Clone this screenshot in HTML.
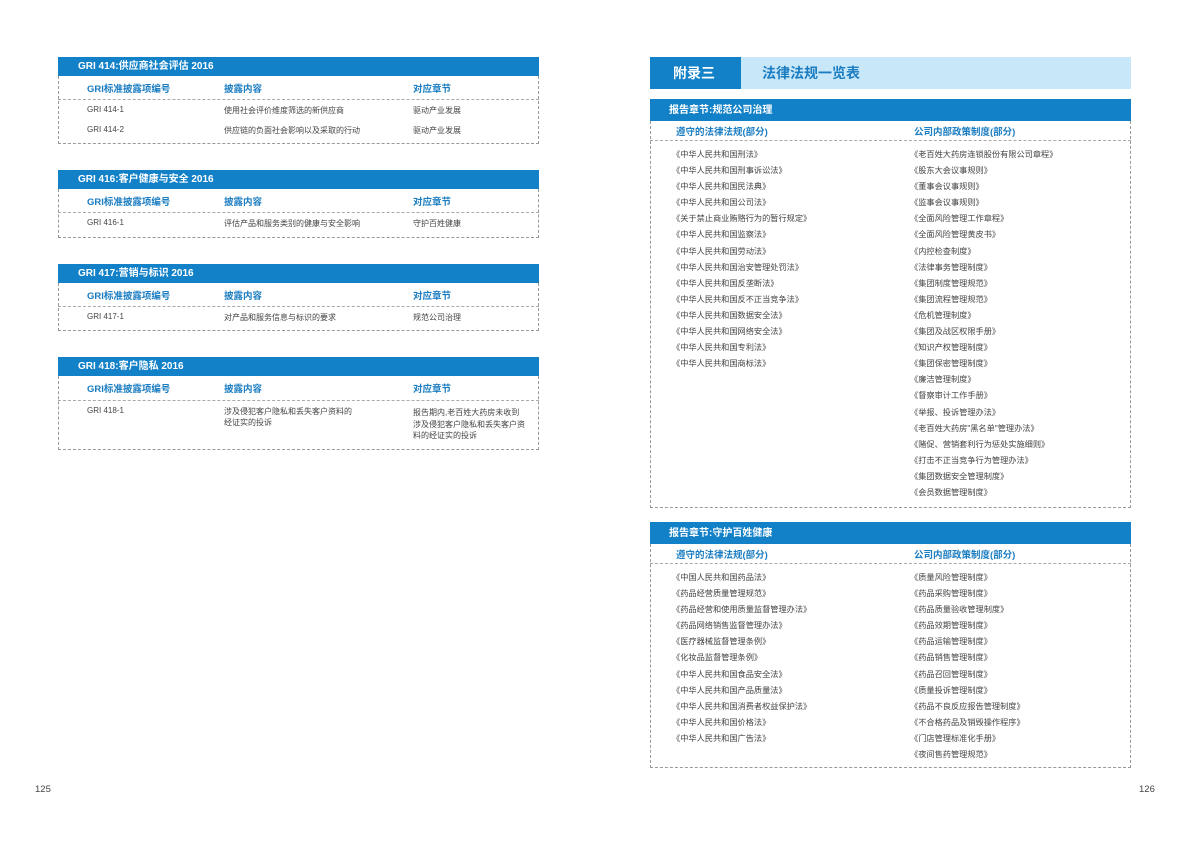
<!DOCTYPE html>
<html><head><meta charset="utf-8"><style>
*{margin:0;padding:0;box-sizing:border-box}
body{width:1191px;height:842px;background:#fff;position:relative;overflow:hidden;font-family:"Liberation Sans","Noto Sans CJK SC",sans-serif}
.a{position:absolute;white-space:nowrap}
.bar{position:absolute;background:#1281c8;color:#fff;font-weight:bold;font-size:10px;line-height:20px}
.box{position:absolute;border:1px dashed #999;border-top:none}
.hl{position:absolute;border-top:1px dashed #aaa}
.ch{position:absolute;color:#1a7cc1;font-weight:bold;font-size:9.5px;white-space:nowrap}
.t{position:absolute;color:#444;font-size:8px;white-space:nowrap}
.l{position:absolute;color:#444;font-size:8.2px;line-height:16.1px;white-space:nowrap}
</style></head><body>

<div class="bar" style="left:58px;top:57px;width:481px;height:19px;padding-left:20px">GRI 414:供应商社会评估 2016</div>
<div class="box" style="left:58px;top:76px;width:481px;height:68px"></div>
<div class="hl" style="left:58px;top:99px;width:481px"></div>
<div class="ch" style="left:87px;top:81px">GRI标准披露项编号</div><div class="ch" style="left:224px;top:81px">披露内容</div><div class="ch" style="left:413px;top:81px">对应章节</div>
<div class="t" style="left:87px;top:105px">GRI 414-1</div><div class="t" style="left:224px;top:105px">使用社会评价维度筛选的新供应商</div><div class="t" style="left:413px;top:105px">驱动产业发展</div>
<div class="t" style="left:87px;top:125px">GRI 414-2</div><div class="t" style="left:224px;top:125px">供应链的负面社会影响以及采取的行动</div><div class="t" style="left:413px;top:125px">驱动产业发展</div>

<div class="bar" style="left:58px;top:170px;width:481px;height:19px;padding-left:20px">GRI 416:客户健康与安全 2016</div>
<div class="box" style="left:58px;top:189px;width:481px;height:49px"></div>
<div class="hl" style="left:58px;top:212px;width:481px"></div>
<div class="ch" style="left:87px;top:194px">GRI标准披露项编号</div><div class="ch" style="left:224px;top:194px">披露内容</div><div class="ch" style="left:413px;top:194px">对应章节</div>
<div class="t" style="left:87px;top:218px">GRI 416-1</div><div class="t" style="left:224px;top:218px">评估产品和服务类别的健康与安全影响</div><div class="t" style="left:413px;top:218px">守护百姓健康</div>

<div class="bar" style="left:58px;top:264px;width:481px;height:19px;padding-left:20px">GRI 417:营销与标识 2016</div>
<div class="box" style="left:58px;top:283px;width:481px;height:48px"></div>
<div class="hl" style="left:58px;top:306px;width:481px"></div>
<div class="ch" style="left:87px;top:288px">GRI标准披露项编号</div><div class="ch" style="left:224px;top:288px">披露内容</div><div class="ch" style="left:413px;top:288px">对应章节</div>
<div class="t" style="left:87px;top:312px">GRI 417-1</div><div class="t" style="left:224px;top:312px">对产品和服务信息与标识的要求</div><div class="t" style="left:413px;top:312px">规范公司治理</div>

<div class="bar" style="left:58px;top:357px;width:481px;height:19px;padding-left:20px">GRI 418:客户隐私 2016</div>
<div class="box" style="left:58px;top:376px;width:481px;height:74px"></div>
<div class="hl" style="left:58px;top:400px;width:481px"></div>
<div class="ch" style="left:87px;top:381px">GRI标准披露项编号</div><div class="ch" style="left:224px;top:381px">披露内容</div><div class="ch" style="left:413px;top:381px">对应章节</div>
<div class="t" style="left:87px;top:406px">GRI 418-1</div>
<div class="t" style="left:224px;top:406px;line-height:11px">涉及侵犯客户隐私和丢失客户资料的<br>经证实的投诉</div>
<div class="t" style="left:413px;top:407px;line-height:11.5px">报告期内,老百姓大药房未收到<br>涉及侵犯客户隐私和丢失客户资<br>料的经证实的投诉</div>

<div class="a" style="left:650px;top:57px;width:481px;height:32px;background:#c8e7f9"></div>
<div class="a" style="left:650px;top:57px;width:91px;height:32px;background:#1281c8;color:#fff;font-weight:bold;font-size:14px;line-height:32px;padding-left:23px">附录三</div>
<div class="a" style="left:762px;top:57px;color:#1a7cc1;font-weight:bold;font-size:14px;line-height:32px">法律法规一览表</div>

<div class="bar" style="left:650px;top:99px;width:481px;height:22px;line-height:23px;padding-left:19px">报告章节:规范公司治理</div>
<div class="box" style="left:650px;top:121px;width:481px;height:387px"></div>
<div class="hl" style="left:650px;top:140px;width:481px"></div>
<div class="ch" style="left:676px;top:124px">遵守的法律法规(部分)</div><div class="ch" style="left:914px;top:124px">公司内部政策制度(部分)</div>
<div class="l" style="left:672px;top:147px">《中华人民共和国刑法》<br>《中华人民共和国刑事诉讼法》<br>《中华人民共和国民法典》<br>《中华人民共和国公司法》<br>《关于禁止商业贿赂行为的暂行规定》<br>《中华人民共和国监察法》<br>《中华人民共和国劳动法》<br>《中华人民共和国治安管理处罚法》<br>《中华人民共和国反垄断法》<br>《中华人民共和国反不正当竞争法》<br>《中华人民共和国数据安全法》<br>《中华人民共和国网络安全法》<br>《中华人民共和国专利法》<br>《中华人民共和国商标法》</div>
<div class="l" style="left:910px;top:147px">《老百姓大药房连锁股份有限公司章程》<br>《股东大会议事规则》<br>《董事会议事规则》<br>《监事会议事规则》<br>《全面风险管理工作章程》<br>《全面风险管理黄皮书》<br>《内控检查制度》<br>《法律事务管理制度》<br>《集团制度管理规范》<br>《集团流程管理规范》<br>《危机管理制度》<br>《集团及战区权限手册》<br>《知识产权管理制度》<br>《集团保密管理制度》<br>《廉洁管理制度》<br>《督察审计工作手册》<br>《举报、投诉管理办法》<br>《老百姓大药房"黑名单"管理办法》<br>《赌促、营销套利行为惩处实施细则》<br>《打击不正当竞争行为管理办法》<br>《集团数据安全管理制度》<br>《会员数据管理制度》</div>

<div class="bar" style="left:650px;top:522px;width:481px;height:22px;line-height:23px;padding-left:19px">报告章节:守护百姓健康</div>
<div class="box" style="left:650px;top:544px;width:481px;height:224px"></div>
<div class="hl" style="left:650px;top:563px;width:481px"></div>
<div class="ch" style="left:676px;top:547px">遵守的法律法规(部分)</div><div class="ch" style="left:914px;top:547px">公司内部政策制度(部分)</div>
<div class="l" style="left:672px;top:570px">《中国人民共和国药品法》<br>《药品经营质量管理规范》<br>《药品经营和使用质量监督管理办法》<br>《药品网络销售监督管理办法》<br>《医疗器械监督管理条例》<br>《化妆品监督管理条例》<br>《中华人民共和国食品安全法》<br>《中华人民共和国产品质量法》<br>《中华人民共和国消费者权益保护法》<br>《中华人民共和国价格法》<br>《中华人民共和国广告法》</div>
<div class="l" style="left:910px;top:570px">《质量风险管理制度》<br>《药品采购管理制度》<br>《药品质量验收管理制度》<br>《药品效期管理制度》<br>《药品运输管理制度》<br>《药品销售管理制度》<br>《药品召回管理制度》<br>《质量投诉管理制度》<br>《药品不良反应报告管理制度》<br>《不合格药品及销毁操作程序》<br>《门店管理标准化手册》<br>《夜间售药管理规范》</div>

<div class="a" style="left:35px;top:784px;font-size:9.5px;color:#444">125</div>
<div class="a" style="left:1139px;top:784px;font-size:9.5px;color:#444">126</div>
</body></html>
